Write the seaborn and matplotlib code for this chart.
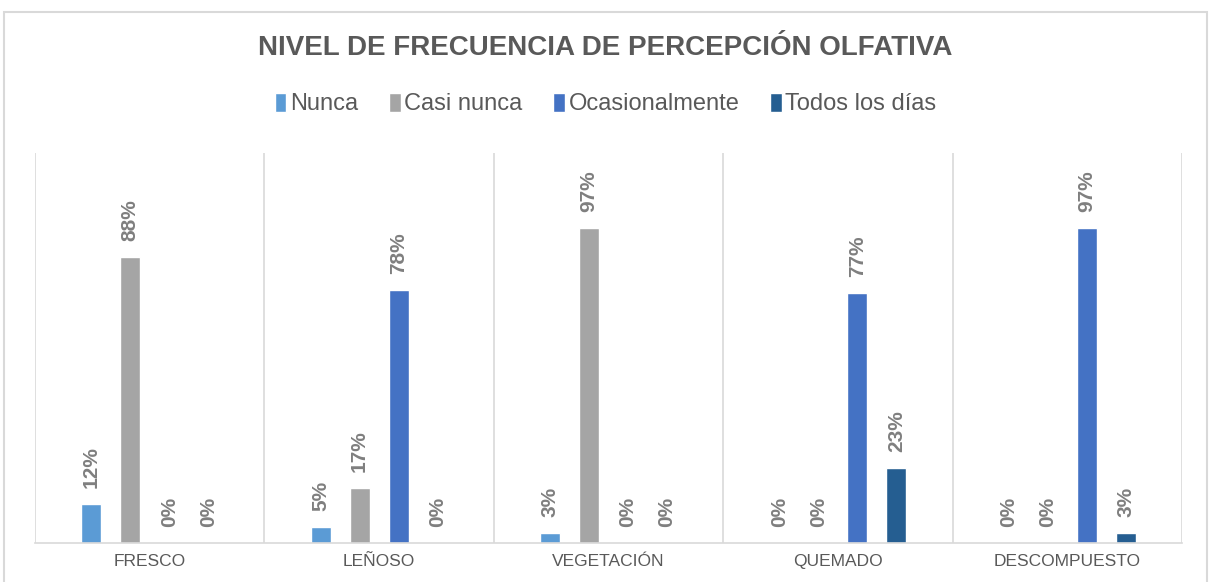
import pandas as pd
import matplotlib.pyplot as plt
import seaborn as sns
from matplotlib.patches import Rectangle

# Données
categorias = ['FRESCO', 'LEÑOSO', 'VEGETACIÓN', 'QUEMADO', 'DESCOMPUESTO']
niveles = ['Nunca', 'Casi nunca', 'Ocasionalmente', 'Todos los días']
nunca = [12, 5, 3, 0, 0]
casi_nunca = [88, 17, 97, 0, 0]
ocasionalmente = [0, 78, 0, 77, 97]
todos_los_dias = [0, 0, 0, 23, 3]

colores = ['#5B9BD5', '#A5A5A5', '#4472C4', '#255E91']

valores = [nunca, casi_nunca, ocasionalmente, todos_los_dias]
filas = []
for nivel, serie in zip(niveles, valores):
    for cat, v in zip(categorias, serie):
        filas.append({'Categoria': cat, 'Nivel': nivel, 'Valor': v})
data = pd.DataFrame(filas)

sns.set_style('white')
plt.rcParams['font.family'] = ['Liberation Sans', 'DejaVu Sans']

fig = plt.figure(figsize=(12.11, 5.82), dpi=100)
ax = fig.add_axes([35 / 1211, 39 / 582, 1147 / 1211, 390 / 582])

sns.barplot(data=data, x='Categoria', y='Valor', hue='Nivel', order=categorias,
            hue_order=niveles, palette=colores, width=0.68, gap=0.49,
            saturation=1, ax=ax, legend=True)

# Étiquettes des valeurs
for cont in ax.containers:
    for bar in cont:
        h = bar.get_height()
        ax.annotate(f'{h:.0f}%', (bar.get_x() + bar.get_width() / 2, h),
                    xytext=(0, 11.5), textcoords='offset points',
                    rotation=90, ha='center', va='bottom',
                    fontsize=15, fontweight='bold', color='#7F7F7F')

ax.set_xlim(-0.5, 4.5)
ax.set_ylim(0, 120)
ax.set_yticks([])
ax.set_xlabel('')
ax.set_ylabel('')
for x in [-0.5, 0.5, 1.5, 2.5, 3.5, 4.5]:
    ax.axvline(x, color='#D9D9D9', lw=1.2, zorder=0)
for s in ['top', 'right', 'left']:
    ax.spines[s].set_visible(False)
ax.spines['bottom'].set_color('#D9D9D9')
ax.spines['bottom'].set_linewidth(1.2)
ax.tick_params(axis='x', length=0, pad=8, labelsize=12.5, labelcolor='#595959')

# Légende
handles, labels = ax.get_legend_handles_labels()
ax.get_legend().remove()
fig.legend(handles, labels, loc='center', bbox_to_anchor=(0.5, 1 - 104 / 582),
           ncol=4, frameon=False, fontsize=17, handlelength=0.5, handleheight=0.9,
           handletextpad=0.15, columnspacing=1.3, labelcolor='#595959')

fig.suptitle('NIVEL DE FRECUENCIA DE PERCEPCIÓN OLFATIVA', y=1 - 48 / 582, va='center',
             fontsize=20, fontweight='bold', color='#595959')

fig.patches.append(Rectangle((4 / 1211, -0.01), 1203 / 1211, 1 - 12 / 582 + 0.01,
                             transform=fig.transFigure, fill=False,
                             edgecolor='#D9D9D9', lw=1.5))

fig.savefig('out.png', dpi=100)
